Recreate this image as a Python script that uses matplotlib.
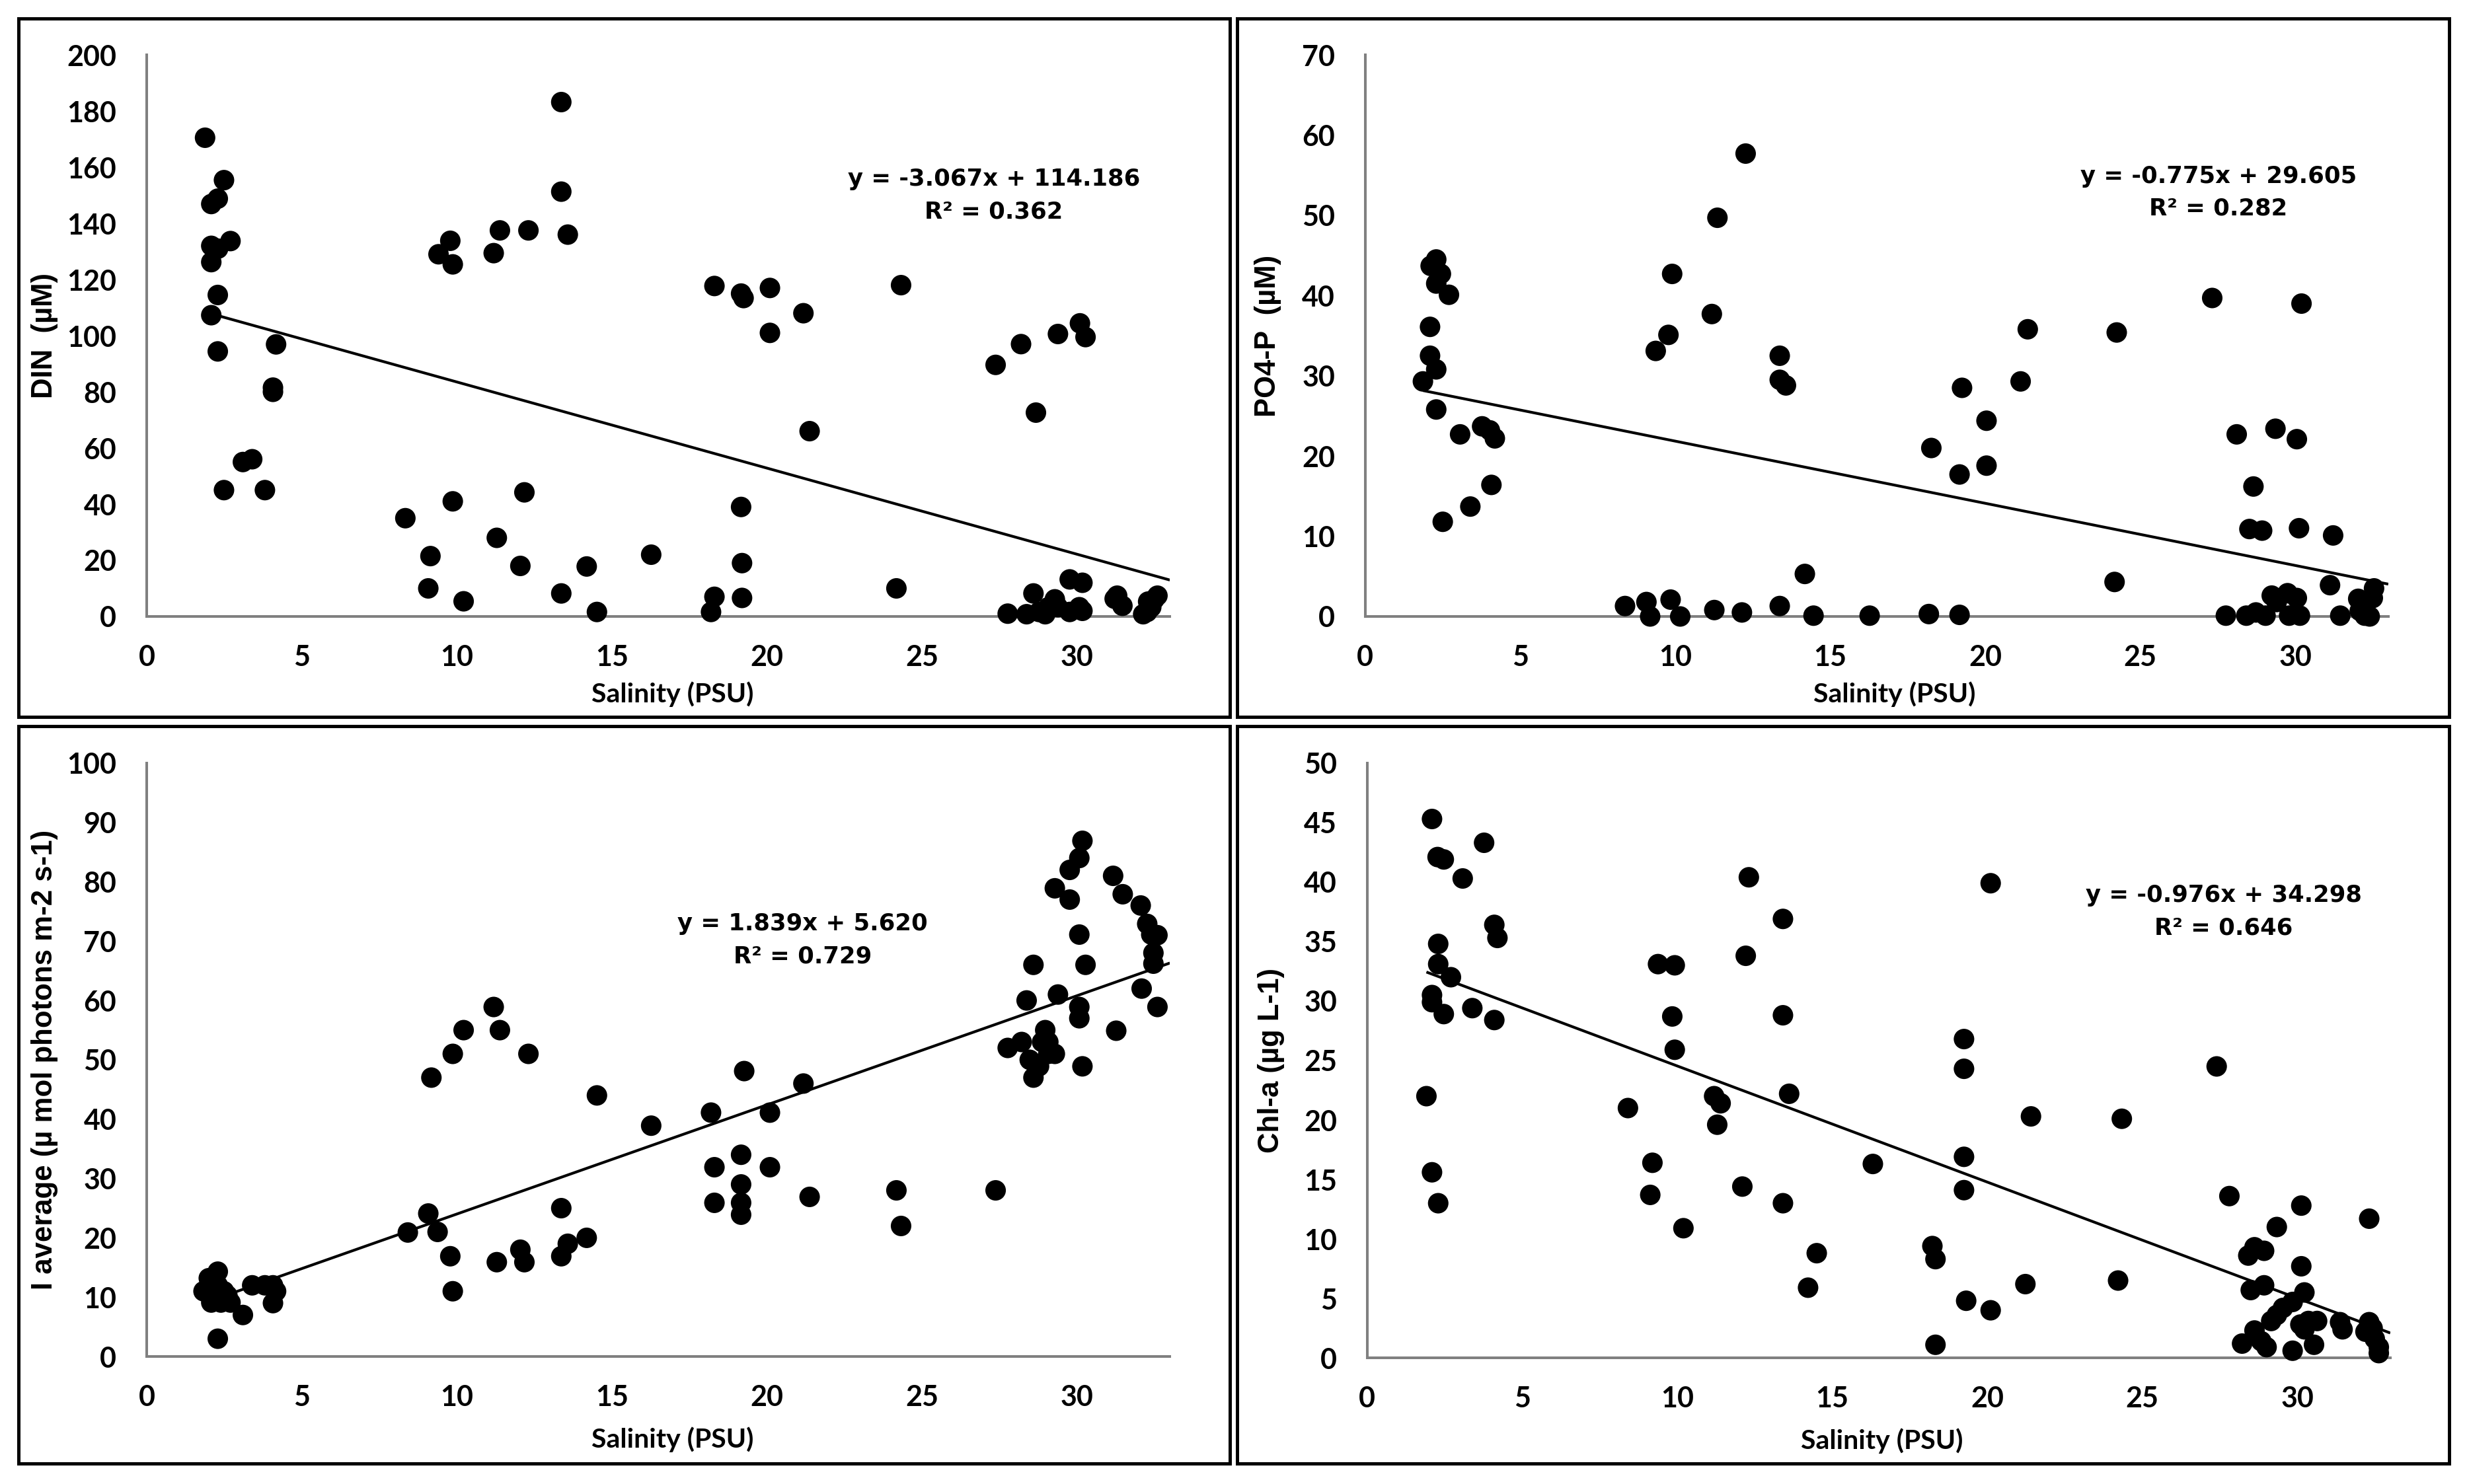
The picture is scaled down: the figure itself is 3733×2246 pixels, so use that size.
import matplotlib
matplotlib.use("Agg")
import matplotlib.pyplot as plt
from matplotlib.patches import Rectangle
import numpy as np

# ---------------- data ----------------
sal_din = [1.88, 2.08, 2.29, 2.49, 2.08, 2.30, 2.70, 2.08, 2.29, 2.08, 2.29, 4.17, 4.07, 4.07,
           3.10, 3.40, 2.49, 3.81, 8.34, 9.15, 9.08, 9.87, 10.22, 9.41, 9.79, 9.87, 11.19, 11.39,
           12.31, 11.29, 12.05, 12.18, 13.37, 13.37, 13.58, 13.37, 14.19, 14.52, 16.27, 18.31,
           19.25, 19.17, 20.10, 20.10, 21.18, 21.38, 19.17, 19.20, 19.20, 18.31, 18.20, 24.33,
           24.18, 27.38, 28.20, 28.68, 29.39, 30.10, 30.28, 29.77, 30.18, 27.77, 28.60, 28.38,
           28.78, 28.98, 29.08, 29.29, 29.39, 29.77, 30.08, 30.18, 31.22, 31.30, 31.47, 32.14,
           32.30, 32.40, 32.50, 32.60, 32.27]
din = [170.5, 146.9, 148.8, 155.4, 132.0, 131.0, 133.7, 126.2, 114.5, 107.3, 94.4, 96.9, 81.5, 80.0,
       55.0, 56.0, 45.0, 45.0, 35.0, 21.5, 10.0, 41.0, 5.4, 129.0, 133.8, 125.4, 129.4, 137.5,
       137.5, 28.0, 18.0, 44.2, 183.2, 151.3, 136.0, 8.2, 17.8, 1.6, 22.0, 117.7,
       113.4, 115.0, 117.0, 101.0, 108.0, 66.0, 39.0, 19.0, 6.6, 7.0, 1.6, 118.0,
       10.0, 89.6, 97.0, 72.6, 100.6, 104.4, 99.5, 13.2, 12.0, 1.0, 8.2, 0.8,
       1.6, 0.8, 3.3, 6.1, 3.3, 1.6, 3.3, 2.0, 6.3, 7.4, 3.8, 0.8,
       5.3, 3.3, 6.1, 7.4, 1.6]

sal_po4 = [1.86, 2.09, 2.09, 2.29, 2.29, 2.11, 2.29, 2.44, 2.29, 2.70, 2.50, 3.06, 3.39, 3.77,
           4.02, 4.18, 4.07, 8.38, 9.07, 9.19, 9.85, 10.16, 9.37, 9.78, 9.90, 11.18, 11.36, 11.26,
           12.15, 12.27, 13.37, 13.37, 13.57, 13.37, 14.18, 14.46, 16.27, 18.18, 18.26, 19.17,
           19.25, 19.17, 20.04, 20.04, 21.14, 21.37, 24.24, 24.17, 27.32, 27.76, 28.11, 28.65,
           28.52, 28.93, 29.36, 30.05, 30.20, 30.12, 31.22, 31.12, 31.45, 28.42, 28.73, 29.04,
           29.24, 29.40, 29.75, 29.80, 30.05, 30.15, 32.03, 32.24, 32.50, 32.54, 32.40, 32.08]
po4 = [29.3, 32.5, 36.1, 30.8, 25.8, 43.7, 44.5, 42.7, 41.5, 40.1, 11.8, 22.7, 13.7, 23.7,
       23.2, 22.2, 16.4, 1.3, 1.8, 0.0, 2.1, 0.0, 33.1, 35.1, 42.7, 37.7, 49.7, 0.8,
       0.5, 57.7, 32.5, 29.5, 28.8, 1.3, 5.3, 0.1, 0.1, 0.3, 21.0, 17.7,
       28.5, 0.2, 24.4, 18.8, 29.3, 35.8, 35.4, 4.3, 39.7, 0.1, 22.7, 16.2,
       10.9, 10.7, 23.4, 22.1, 39.0, 11.0, 10.1, 3.9, 0.1, 0.1, 0.5, 0.1,
       2.6, 1.8, 2.9, 0.1, 2.3, 0.1, 2.2, 0.1, 2.3, 3.5, 0.0, 0.7]

sal_i = [1.83, 2.00, 2.29, 2.08, 2.29, 2.49, 2.39, 2.70, 2.60, 2.29, 3.10, 3.40, 3.81, 4.07,
         4.17, 4.07, 8.42, 9.08, 9.38, 9.79, 9.87, 9.18, 9.87, 10.22, 11.19, 11.39, 12.31,
         11.29, 12.05, 12.18, 13.37, 13.37, 13.58, 14.19, 14.52, 16.27, 18.20, 18.31, 18.31,
         19.17, 19.17, 19.17, 19.17, 19.27, 20.10, 20.10, 21.18, 21.38, 24.18, 24.33, 27.38,
         27.77, 28.22, 28.38, 28.48, 28.60, 28.60, 28.78, 28.88, 28.98, 29.08, 29.08, 29.29,
         29.39, 29.29, 29.77, 29.77, 30.08, 30.18, 30.08, 30.28, 30.08, 30.08, 30.18, 31.17,
         31.48, 31.27, 32.06, 32.27, 32.40, 32.47, 32.47, 32.60, 32.09, 32.60]
iavg = [11.0, 13.2, 14.3, 9.1, 12.0, 11.0, 9.1, 9.1, 10.3, 3.0, 7.0, 12.0, 12.0, 12.0,
        11.0, 9.0, 20.9, 24.1, 21.0, 16.9, 11.0, 47.0, 51.0, 55.0, 58.9, 55.0, 51.0,
        15.9, 18.0, 15.9, 25.0, 16.9, 19.0, 20.0, 44.0, 38.9, 41.1, 31.9, 25.9,
        34.0, 29.0, 25.9, 23.9, 48.1, 41.1, 31.9, 46.0, 26.9, 28.0, 22.0, 28.0,
        52.0, 53.0, 60.0, 50.0, 66.0, 47.0, 48.9, 53.0, 55.0, 53.0, 51.0, 51.0,
        61.0, 78.9, 77.0, 82.0, 84.0, 86.9, 71.1, 66.0, 58.9, 57.0, 48.9, 81.0,
        77.9, 54.9, 76.0, 72.9, 71.1, 68.0, 66.2, 58.9, 62.0, 71.0]

sal_chl = [2.09, 2.27, 2.47, 3.08, 3.77, 4.10, 4.20, 2.29, 2.29, 2.70, 2.09, 2.09, 2.47, 3.39,
           4.10, 1.91, 2.09, 2.29, 8.41, 9.20, 9.13, 9.38, 9.92, 9.84, 9.92, 10.20, 11.19,
           11.40, 11.29, 12.10, 12.21, 12.31, 13.41, 13.41, 13.61, 13.41, 14.22, 14.50, 16.31,
           18.23, 18.33, 18.33, 19.25, 19.25, 19.25, 19.25, 19.32, 20.11, 20.11, 21.23, 21.41,
           24.22, 24.34, 27.40, 27.81, 28.22, 28.42, 28.62, 28.50, 28.62, 28.93, 28.93, 29.01,
           28.84, 29.34, 29.16, 29.34, 29.54, 29.85, 29.85, 30.13, 30.13, 30.23, 30.10, 30.23,
           30.36, 30.54, 30.64, 31.46, 31.38, 32.32, 32.32, 32.20, 32.50, 32.63, 32.63, 32.43]
chl = [45.3, 42.1, 41.9, 40.3, 43.3, 36.4, 35.3, 34.8, 33.1, 32.0, 30.5, 29.9, 28.9, 29.4,
       28.4, 22.0, 15.6, 13.0, 21.0, 16.4, 13.7, 33.1, 33.0, 28.7, 25.9, 10.9, 22.0,
       21.4, 19.6, 14.4, 33.8, 40.4, 36.9, 28.8, 22.2, 13.0, 5.9, 8.8, 16.3,
       9.4, 8.3, 1.1, 26.8, 24.3, 16.9, 14.1, 4.8, 39.9, 4.0, 6.2, 20.3,
       6.5, 20.1, 24.5, 13.6, 1.2, 8.6, 9.3, 5.7, 2.3, 9.0, 6.1, 0.9,
       1.4, 11.0, 3.1, 3.6, 4.2, 0.6, 4.7, 12.8, 7.7, 5.5, 2.8, 2.4,
       3.1, 1.1, 3.1, 2.4, 3.0, 11.7, 3.0, 2.2, 1.6, 0.9, 0.4, 2.5]

slopes = [-3.067, -0.775, 1.839, -0.976]
intercepts = [114.186, 29.605, 5.620, 34.298]
r2_values = ["0.362", "0.282", "0.729", "0.646"]
eq_texts = ["y = -3.067x + 114.186", "y = -0.775x + 29.605", "y = 1.839x + 5.620", "y = -0.976x + 34.298"]
y_labels = ["DIN  (\u00b5M)", "PO4-P  (\u00b5M)", "I average (\u00b5 mol photons m-2 s-1)", "Chl-a (\u00b5g L-1)"]
x_label = "Salinity (PSU)"
x_ticks = [0, 5, 10, 15, 20, 25, 30]
y_maxes = [200, 70, 100, 50]
y_steps = [20, 10, 10, 5]
X_MAX = 33

# ---------------- layout ----------------
W, H = 3733, 2246
fig = plt.figure(figsize=(W / 100, H / 100), dpi=100)
fig.patch.set_facecolor("white")

axes_rects = [
    [0.0595, 0.5846, 0.4147, 0.3784],
    [0.5534, 0.5846, 0.4147, 0.3784],
    [0.0595, 0.0859, 0.4147, 0.3999],
    [0.5542, 0.0850, 0.4147, 0.4008],
]
boxes = [
    [0.00763, 0.5167, 0.4910, 0.4708],
    [0.50134, 0.5167, 0.4914, 0.4708],
    [0.00763, 0.0138, 0.4910, 0.4971],
    [0.50134, 0.0138, 0.4914, 0.4971],
]
ylabel_x = [-0.100, -0.095, -0.100, -0.094]
xlabel_pos = [(0.514, -0.138), (0.517, -0.138), (0.514, -0.140), (0.503, -0.140)]
eq_pos = [(0.828, 0.779, 0.721), (0.834, 0.784, 0.726), (0.641, 0.729, 0.674), (0.837, 0.778, 0.723)]

datasets = [(sal_din, din), (sal_po4, po4), (sal_i, iavg), (sal_chl, chl)]

for b in boxes:
    fig.patches.append(Rectangle((b[0], b[1]), b[2], b[3], transform=fig.transFigure,
                                 fill=False, edgecolor="black", linewidth=3.6, zorder=0))

TICK_FONT = "Lato"
LABEL_FONT = "Liberation Sans"
EQ_FONT = "DejaVu Sans"
spine_col = "#808080"

for k in range(4):
    ax = fig.add_axes(axes_rects[k])
    xs = np.array(datasets[k][0])
    ys = np.array(datasets[k][1])
    ax.scatter(xs, ys, s=500, color="black", edgecolors="none", zorder=3, clip_on=False)
    lx = np.array([xs.min(), X_MAX])
    ax.plot(lx, slopes[k] * lx + intercepts[k], color="black", lw=3.0, zorder=2,
            solid_capstyle="butt")

    ax.set_xlim(0, X_MAX)
    ax.set_ylim(0, y_maxes[k])
    ax.set_xticks(x_ticks)
    ax.set_yticks(np.arange(0, y_maxes[k] + 0.001, y_steps[k]))
    for s in ["top", "right"]:
        ax.spines[s].set_visible(False)
    for s in ["left", "bottom"]:
        ax.spines[s].set_color(spine_col)
        ax.spines[s].set_linewidth(2.9)
    ax.tick_params(axis="both", length=0, labelsize=31, colors="black")
    ax.tick_params(axis="y", pad=33)
    ax.tick_params(axis="x", pad=30)
    for lab in ax.get_xticklabels() + ax.get_yticklabels():
        lab.set_fontweight("bold")
        lab.set_fontfamily(TICK_FONT)

    ax.text(ylabel_x[k], 0.5, y_labels[k], transform=ax.transAxes,
            rotation=90, ha="center", va="center", fontsize=31.5, fontweight="bold",
            family=LABEL_FONT, color="black")
    ax.text(xlabel_pos[k][0], xlabel_pos[k][1], x_label, transform=ax.transAxes,
            ha="center", va="center", fontsize=29.5, fontweight="bold", family=TICK_FONT,
            color="black")
    ex, ey1, ey2 = eq_pos[k]
    ax.text(ex, ey1, eq_texts[k], transform=ax.transAxes, ha="center", va="center",
            fontsize=25.5, fontweight="bold", family=EQ_FONT, color="black")
    ax.text(ex, ey2, "R\u00b2 = " + r2_values[k], transform=ax.transAxes, ha="center",
            va="center", fontsize=25.5, fontweight="bold", family=EQ_FONT, color="black")

fig.savefig("out.png", dpi=100, facecolor="white")
